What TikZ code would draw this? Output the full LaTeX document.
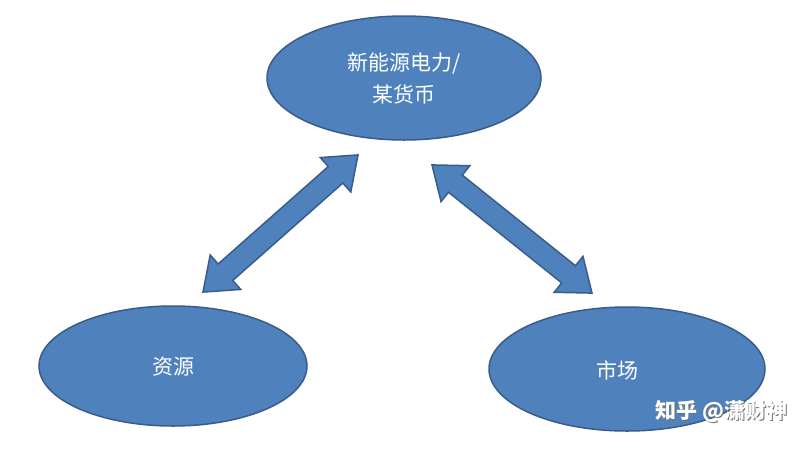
\documentclass[tikz,border=0pt]{standalone}
\usepackage{fontspec}
\setmainfont{Noto Sans CJK SC}
\definecolor{bfill}{HTML}{4F81BD}
\definecolor{bline}{HTML}{385D8A}
\newcommand{\blockdarr}[1]{%
  \draw[ell] (-#1/2,0) -- (-#1/2+30,-23) -- (-#1/2+30,-11) -- (#1/2-30,-11) -- (#1/2-30,-23) -- (#1/2,0)
   -- (#1/2-30,23) -- (#1/2-30,11) -- (-#1/2+30,11) -- (-#1/2+30,23) -- cycle;}
\begin{document}
\begin{tikzpicture}[x=1pt,y=-1pt,
  ell/.style={draw=bline,line width=1.5pt,fill=bfill,line join=miter},
  lbl/.style={text=white,font=\fontsize{21}{32}\selectfont,align=center},
  wmk/.style={font=\fontsize{21}{24}\selectfont\bfseries,anchor=east}]
\useasboundingbox (0,0) rectangle (806,448);
\fill[white] (0,0) rectangle (806,448);
\draw[ell] (404,78) ellipse [x radius=137, y radius=62];
\node[lbl] (top) at (404,78) {新能源电力/\\某货币};
\draw[ell] (173,366) ellipse [x radius=134, y radius=60];
\node[lbl] (left) at (173,367) {资源};
\draw[ell] (627,369) ellipse [x radius=138, y radius=62];
\node[lbl] (right) at (617,370) {市场};
\begin{scope}[shift={(280.5,223.5)},rotate=41.5]\blockdarr{207}\end{scope}
\begin{scope}[shift={(512,229)},rotate=-38.7]\blockdarr{205}\end{scope}
\node[wmk,text=black!55] (wms) at (792,413) {知乎 @潇财神};
\node[wmk,text=white] (wm) at (791,412) {知乎 @潇财神};
\end{tikzpicture}
\end{document}
